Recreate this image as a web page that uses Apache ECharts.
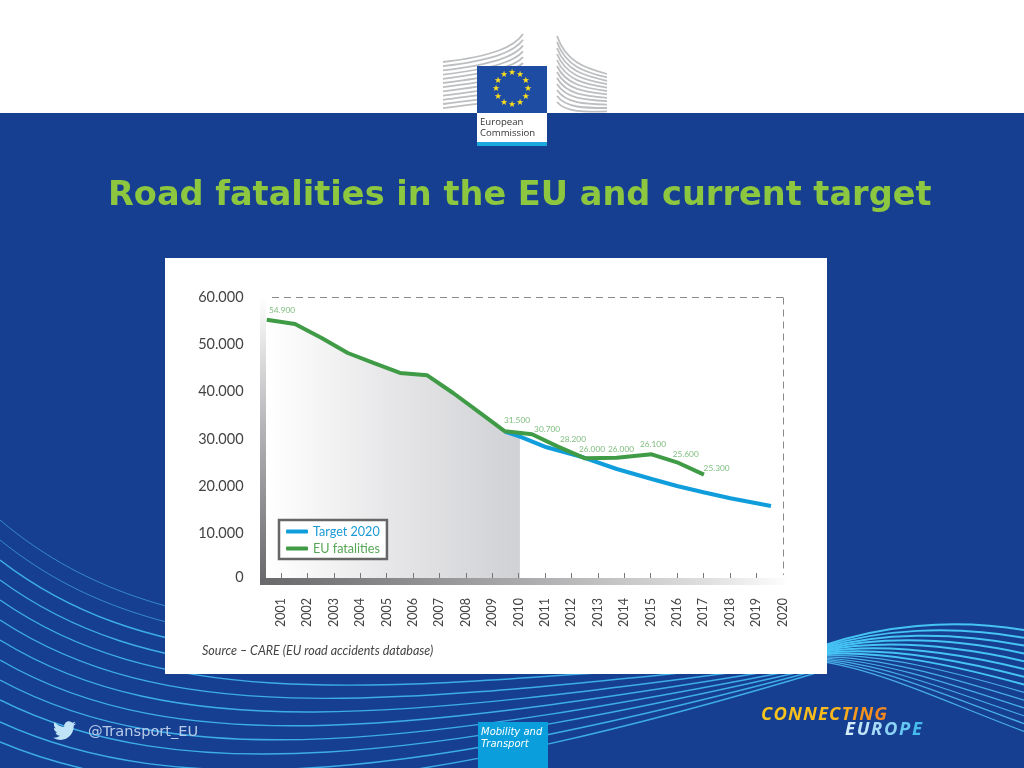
<!DOCTYPE html>
<html><head><meta charset="utf-8">
<style>html,body{margin:0;padding:0;background:#163f92}#c{width:1024px;height:768px}</style>
<script src="https://cdn.jsdelivr.net/npm/echarts@6/dist/echarts.min.js"></script>
</head><body><div id="c"></div>
<script>
// ---- data ----
const tickYears = [2001,2002,2003,2004,2005,2006,2007,2008,2009,2010,2011,2012,2013,2014,2015,2016,2017,2018,2019,2020];
const yTicks = [0,10000,20000,30000,40000,50000,60000];
const fatalX = [2000.46,2001.53,2002.54,2003.53,2004.5,2005.51,2006.54,2007.52,2008.54,2009.48,2010.51,2011.49,2012.52,2013.72,2015.04,2016.0,2017.02];
const fatalY = [55200,54300,51340,48170,46060,43950,43460,39720,35500,31630,31000,28380,25920,26050,26770,25080,22460];
const targetX = [2009.48,2010.05,2011.06,2012.44,2013.72,2015.04,2016.0,2017.0,2018.02,2019.56];
const targetY = [31540,30490,28250,26140,23660,21550,20070,18740,17470,15850];
const labelText = ['54.900','31.500','30.700','28.200','26.000','26.000','26.100','25.600','25.300'];
const labelX = [2001.04,2009.94,2011.08,2012.06,2012.78,2013.88,2015.09,2016.33,2017.5];
const labelY = [57260,34020,32110,30000,27890,27890,28950,26800,23870];
const titleText = 'Road fatalities in the EU and current target';
const sourceText = 'Source – CARE (EU road accidents database)';

const zip = (a,b)=>a.map((v,i)=>[v,b[i]]);
const fmt = v=>String(v).replace(/\B(?=(\d{3})+$)/g,'.');
const G = echarts.graphic;
G.registerShape('bird', G.extendPath('M23.953 4.57 a10 10 0 0 1 -2.825 .775 a4.958 4.958 0 0 0 2.163 -2.723 c-.951 .555 -2.005 .959 -3.127 1.184 a4.92 4.92 0 0 0 -8.384 4.482 C7.69 8.095 4.067 6.13 1.64 3.162 a4.822 4.822 0 0 0 -.666 2.475 c0 1.71 .87 3.213 2.188 4.096 a4.904 4.904 0 0 1 -2.228 -.616 v.06 a4.923 4.923 0 0 0 3.946 4.827 a4.996 4.996 0 0 1 -2.212 .085 a4.936 4.936 0 0 0 4.604 3.417 a9.867 9.867 0 0 1 -6.102 2.105 c-.39 0 -.779 -.023 -1.17 -.067 a13.995 13.995 0 0 0 7.557 2.209 c9.053 0 13.998 -7.496 13.998 -13.985 c0 -.21 0 -.42 -.015 -.63 A9.935 9.935 0 0 0 24 4.59 z',{}));
const el = [];
const BG=-10;

// white header band
el.push({type:'rect',z:BG,shape:{x:0,y:0,width:1024,height:113},style:{fill:'#fff'}});

// bottom-left sweep of lines
[520,540,560,580,600,620,640,660,680,700,722,742].forEach((y0,i)=>{
  const sum = 208-(y0-600)*0.58, e = 648+2*i;
  el.push({type:'bezierCurve',z:BG+1,shape:{x1:0,y1:y0,cpx1:180,cpy1:y0+sum*0.6,cpx2:420,cpy2:y0+sum*0.4,x2:826,y2:e},
    style:{fill:null,stroke:i<2?'rgba(70,175,230,.65)':'#3dade6',lineWidth:i<2?1:1.4}});
});
// right swoosh
for(let j=0;j<14;j++){
  el.push({type:'bezierCurve',z:BG+1,shape:{x1:822,y1:646+j*1.2,cpx1:880,cpy1:626+j*3.4,cpx2:950,cpy2:618+j*6.6,x2:1024,y2:630+j*7.8},
    style:{fill:null,stroke:j<8?'#45c3f3':'#48aee6',lineWidth:j<8?2:1.2}});
}
// card
el.push({type:'rect',z:BG+2,shape:{x:165,y:258,width:662,height:416},style:{fill:'#fff'}});

// logo building
for(let i=0;i<12;i++){
  el.push({type:'bezierCurve',z:BG+1,shape:{x1:443,y1:62+i*4.2,cpx1:495,cpy1:56+i*4.1,cpx2:515,cpy2:46+i*5,x2:523,y2:34+i*5.8},
    style:{fill:null,stroke:'#bcbec0',lineWidth:1.8}});
  el.push({type:'bezierCurve',z:BG+1,shape:{x1:557,y1:36+i*6,cpx1:566,cpy1:62+i*4.6,cpx2:585,cpy2:68+i*4,x2:607,y2:74+i*3.4},
    style:{fill:null,stroke:'#bcbec0',lineWidth:1.8}});
}
el.push({type:'rect',z:BG+2,shape:{x:477,y:66,width:70,height:47},style:{fill:'#1f4ca3'}});
el.push({type:'rect',z:BG+2,shape:{x:477,y:113,width:70,height:29},style:{fill:'#fff'}});
el.push({type:'rect',z:BG+2,shape:{x:477,y:142,width:70,height:4},style:{fill:'#1ba8de'}});
for(let k=0;k<12;k++){
  const a=k/12*2*Math.PI;
  el.push({type:'text',z:BG+3,style:{text:'★',x:512+16*Math.sin(a),y:89-16*Math.cos(a),fill:'#ffe01a',font:'8.5px "DejaVu Sans"',textAlign:'center',textVerticalAlign:'middle'}});
}
el.push({type:'text',z:BG+3,style:{text:'European',x:480,y:122,fill:'#333',font:'9.6px "Open Sans"',textVerticalAlign:'middle'}});
el.push({type:'text',z:BG+3,style:{text:'Commission',x:480,y:133,fill:'#333',font:'9.6px "Open Sans"',textVerticalAlign:'middle'}});

// axis bands (gradients)
el.push({type:'rect',z:5,shape:{x:260,y:297,width:6,height:288},style:{fill:new G.LinearGradient(0,0,0,1,[{offset:0,color:'#ffffff'},{offset:.45,color:'#b5b5b8'},{offset:1,color:'#68686a'}])}});
el.push({type:'rect',z:5,shape:{x:260,y:578,width:530,height:7},style:{fill:new G.LinearGradient(0,0,1,0,[{offset:0,color:'#68686a'},{offset:.5,color:'#ababad'},{offset:.85,color:'#e0e0e0'},{offset:1,color:'#ffffff'}])}});
// dashed frame
el.push({type:'line',z:4,shape:{x1:272,y1:297.5,x2:783.5,y2:297.5},style:{stroke:'#8a8a8a',lineWidth:1,lineDash:[7,5]}});
el.push({type:'line',z:4,shape:{x1:783.5,y1:297.5,x2:783.5,y2:575},style:{stroke:'#8a8a8a',lineWidth:1,lineDash:[7,5]}});
// source
el.push({type:'text',z:4,style:{text:sourceText,x:202,y:651,fill:'#444',font:'italic 12.5px Lato',textVerticalAlign:'middle'}});

// footer
el.push({type:'rect',z:BG+3,shape:{x:478,y:722,width:70,height:46},style:{fill:'#0a9fdc'}});
el.push({type:'text',z:BG+4,style:{text:'Mobility and',x:481,y:732,fill:'#fff',font:'oblique 10px "DejaVu Sans"',textVerticalAlign:'middle'}});
el.push({type:'text',z:BG+4,style:{text:'Transport',x:481,y:744,fill:'#fff',font:'oblique 10px "DejaVu Sans"',textVerticalAlign:'middle'}});
el.push({type:'text',z:BG+4,style:{text:'@Transport_EU',x:88,y:732,fill:'#b7cbe9',font:'14.6px "DejaVu Sans"',textVerticalAlign:'middle'}});
el.push({type:'bird',z:BG+4,x:53,y:719,scaleX:.96,scaleY:.96,style:{fill:'#bfe4f8'}});

// letter-spaced gradient wordmarks
const mctx = document.createElement('canvas').getContext('2d');
const lerp = (s,t)=>{
  for(let i=1;i<s.length;i++){ if(t<=s[i][0]){const a=s[i-1],b=s[i],u=(t-a[0])/(b[0]-a[0]);
    return 'rgb('+[1,2,3].map(c=>Math.round(a[c]+(b[c]-a[c])*u)).join(',')+')';} }
  const l=s[s.length-1]; return 'rgb('+l[1]+','+l[2]+','+l[3]+')';
};
function word(txt,x,y,width,stops){
  const font='italic bold 18.4px "Open Sans"'; mctx.font=font;
  const base=mctx.measureText(txt).width, gap=(width-base)/(txt.length-1);
  let cx=x;
  for(let i=0;i<txt.length;i++){
    el.push({type:'text',z:BG+4,style:{text:txt[i],x:cx,y:y,fill:lerp(stops,(cx-x)/width),font:font,textVerticalAlign:'middle'}});
    cx+=mctx.measureText(txt[i]).width+gap;
  }
}
word('CONNECTING',761,715,126,[[0,247,197,29],[.55,249,185,28],[.75,245,150,30],[1,238,125,34]]);
word('EUROPE',845,730,77,[[0,213,236,250],[.5,140,210,245],[1,45,180,234]]);

// shaded region under the history up to 2010
const shadeCount = 10;
const shade = zip(fatalX,fatalY).slice(0,shadeCount).concat([[targetX[1],targetY[1]]]);

const chart = echarts.init(document.getElementById('c'),null,{renderer:'canvas'});
chart.setOption({
  animation:false,
  backgroundColor:'#163f92',
  title:{text:titleText,left:103,top:174,textStyle:{color:'#8dc63f',fontFamily:'"DejaVu Sans"',fontWeight:'bold',fontSize:33.6}},
  grid:{left:254.6,width:528,top:297,height:284},
  legend:{
    left:279,top:520,orient:'vertical',backgroundColor:'#fff',borderColor:'#666',borderWidth:2.5,borderRadius:0,
    padding:[5,7,4,7],itemGap:4,itemWidth:22,itemHeight:4,icon:'roundRect',
    textStyle:{fontFamily:'Lato',fontSize:12.6},
    data:[{name:'Target 2020',textStyle:{color:'#1a9ad6'}},{name:'EU fatalities',textStyle:{color:'#55a655'}}]
  },
  xAxis:{type:'value',min:2000,max:2020,interval:1,offset:-3,z:5,splitLine:{show:false},axisLine:{show:false},
    axisTick:{inside:true,length:5,lineStyle:{color:'#777',width:1},customValues:tickYears.slice(0,-1)},
    axisLabel:{rotate:90,margin:20,color:'#444',fontFamily:'Lato',fontSize:12.5,customValues:tickYears,formatter:v=>String(v)}},
  yAxis:{type:'value',min:0,max:60000,interval:10000,splitLine:{show:false},axisLine:{show:false},axisTick:{show:false},
    axisLabel:{margin:11,color:'#444',fontFamily:'Lato',fontSize:14.5,customValues:yTicks,
      formatter:v=>v===0?'{z|0}':fmt(v),rich:{z:{fontFamily:'Lato',fontSize:14.5,color:'#444',padding:[0,0,8,0]}}}},
  series:[
    {name:'shade',type:'line',data:shade,showSymbol:false,silent:true,z:1,lineStyle:{width:0},
      areaStyle:{opacity:1,color:new G.LinearGradient(0,0,1,0,[{offset:0,color:'#ffffff'},{offset:.5,color:'#e6e6e8'},{offset:1,color:'#d0d1d5'}])}},
    {name:'Target 2020',type:'line',data:zip(targetX,targetY),showSymbol:false,z:3,lineStyle:{color:'#0f9ddc',width:4},itemStyle:{color:'#0f9ddc'}},
    {name:'EU fatalities',type:'line',data:zip(fatalX,fatalY),showSymbol:false,z:4,lineStyle:{color:'#409b46',width:4},itemStyle:{color:'#409b46'}},
    {name:'labels',type:'scatter',data:zip(labelX,labelY),symbolSize:1,z:6,itemStyle:{color:'transparent'},
      label:{show:true,position:'inside',color:'#5dab5d',fontFamily:'Lato',fontSize:8.3,formatter:p=>labelText[p.dataIndex]}}
  ],
  graphic:{elements:el}
});
</script></body></html>
